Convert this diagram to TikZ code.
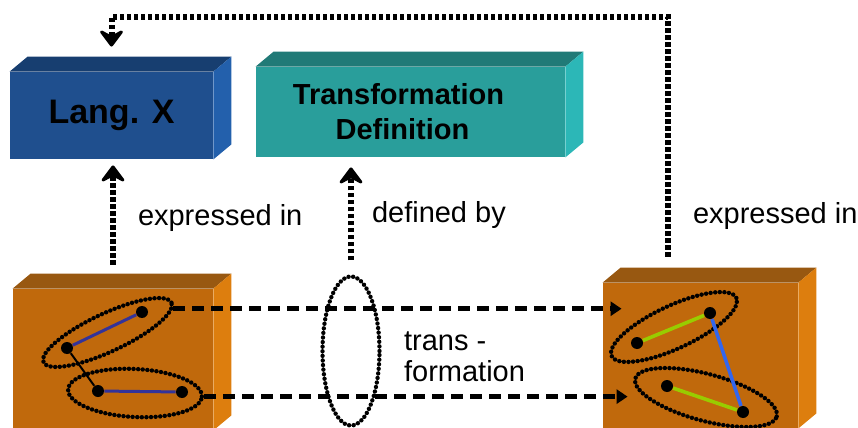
\documentclass[tikz,border=0pt]{standalone}
\usepackage{fontspec}
\setmainfont{Liberation Sans}
\usetikzlibrary{arrows.meta, shapes.geometric, positioning, calc}
\definecolor{langfront}{HTML}{1F4F8E}
\definecolor{langtop}  {HTML}{173E70}
\definecolor{langside} {HTML}{2360AC}
\definecolor{tdfront}  {HTML}{299E9B}
\definecolor{tdtop}    {HTML}{217A77}
\definecolor{tdside}   {HTML}{2CB7B7}
\definecolor{mfront}   {HTML}{C0690C}
\definecolor{mtop}     {HTML}{985811}
\definecolor{mside}    {HTML}{DD7E0E}
\definecolor{srcedge}  {HTML}{33339A}
\definecolor{tgtgreen} {HTML}{99CC00}
\definecolor{tgtblue}  {HTML}{3366EE}
\tikzset{
  front/.style  = {inner sep=0pt, align=center},
  lbl/.style    = {inner sep=0pt, font=\fontsize{14.5}{15.5}\selectfont},
  dotline/.style= {line width=3pt, dash pattern=on 2.2pt off 1.3pt},
  dotarr/.style = {dotline, -{Stealth[length=10pt, width=15pt, inset=4pt, round]}},
  dasharr/.style= {line width=2.4pt, dash pattern=on 6pt off 3.5pt,
                   -{Triangle[length=5.5pt, width=7pt]}},
  blob/.style   = {ellipse, draw, line width=2.2pt, line cap=round,
                   dash pattern=on 0pt off 2.3pt, inner sep=0pt},
  vtx/.style    = {circle, fill=black, inner sep=0pt, minimum size=6pt},
}
% top and side faces of a box node
\newcommand\boxfaces[3]{%
  \fill[#2] (#1.north west) -- ++(18,-15) -- ([shift={(18,-15)}]#1.north east)
    -- (#1.north east) -- cycle;
  \fill[#3] (#1.north east) -- ++(18,-15) -- ([shift={(18,-15)}]#1.south east)
    -- (#1.south east) -- cycle;
}

\begin{document}
\begin{tikzpicture}[x=0.5pt, y=-0.5pt]
  \clip (0,0) rectangle (858,428);

  % boxes
  \node[front, fill=langfront, minimum width=101.5pt, minimum height=43.5pt,
        font=\fontsize{17}{20}\selectfont\bfseries] (langx) at (111.5,115.5) {Lang. X};
  \boxfaces{langx}{langtop}{langside}
  \node[front, fill=tdfront, minimum width=154.5pt, minimum height=45pt,
        font=\fontsize{14.5}{17.5}\selectfont\bfseries] (tdef) at (410.5,112)
    {Transformation\hspace*{12pt}\\Definition\hspace*{8pt}};
  \boxfaces{tdef}{tdtop}{tdside}
  \node[front, fill=mfront, minimum width=100pt, minimum height=70.5pt] (srcm) at (113,359.5) {};
  \boxfaces{srcm}{mtop}{mside}
  \node[front, fill=mfront, minimum width=97.5pt, minimum height=72.5pt] (tgtm) at (700.5,355.5) {};
  \boxfaces{tgtm}{mtop}{mside}

  % source model
  \node[blob, rotate=25, minimum width=70.6pt, minimum height=19pt] (se1) at (107.5,332.5) {};
  \node[blob, rotate=-3, minimum width=67pt, minimum height=24pt] (se2) at (135,393) {};
  \node[vtx] (sp1) at (142,312) {};
  \node[vtx] (sp2) at (67,348) {};
  \node[vtx] (sp3) at (98,391) {};
  \node[vtx] (sp4) at (182,392) {};
  \draw[srcedge, line width=1.5pt] (sp2) -- (sp1);
  \draw[srcedge, line width=1.5pt] (sp3) -- (sp4);
  \draw[line width=1pt] (sp2) -- (sp3);

  % target model
  \node[blob, rotate=25, minimum width=68.8pt, minimum height=21.4pt] (te1) at (674,327) {};
  \node[blob, rotate=-15, minimum width=73.2pt, minimum height=23.4pt] (te2) at (706,397.5) {};
  \node[vtx] (tp1) at (710,313) {};
  \node[vtx] (tp2) at (637,343) {};
  \node[vtx] (tp3) at (667,386) {};
  \node[vtx] (tp4) at (743,412) {};
  \draw[tgtgreen, line width=1.8pt] (tp2) -- (tp1);
  \draw[tgtgreen, line width=1.8pt] (tp3) -- (tp4);
  \draw[tgtblue, line width=1.8pt] (tp1) -- (tp4);

  % transformation
  \node[blob, minimum width=28.5pt, minimum height=74.5pt] (tr) at (351,351) {};
  \node[lbl, align=left, right=11pt of tr, yshift=-3pt] (trlbl) {trans -\\formation};

  \draw[dasharr] ([yshift=-3.5pt]se1.east) -- ([yshift=-3.5pt, xshift=9.5pt]se1.east -| tgtm.west);
  \draw[dasharr] (se2.east) -- ([xshift=12.5pt]se2.east -| tgtm.west);

  % dotted links
  \coordinate (srctop) at ([yshift=12pt]srcm.north);
  \coordinate (trtop) at ([yshift=7pt]tr.north);
  \coordinate (tgttop) at ([xshift=-16.25pt, yshift=13pt]tgtm.north);
  \draw[dotarr, shorten >=3pt] (srctop) -- node[lbl, midway, right=11pt, yshift=-3pt] {expressed in}
    (srctop |- langx.south);
  \draw[dotarr, shorten >=5pt] (trtop) -- node[lbl, midway, right=9pt, yshift=-3pt] {defined by}
    (trtop |- tdef.south);
  \draw[dotarr, shorten >=12.5pt] (tgttop) -- node[lbl, pos=0.17, right=11pt] {expressed in}
    ++(0,-240) -| (langx.north);
\end{tikzpicture}
\end{document}
